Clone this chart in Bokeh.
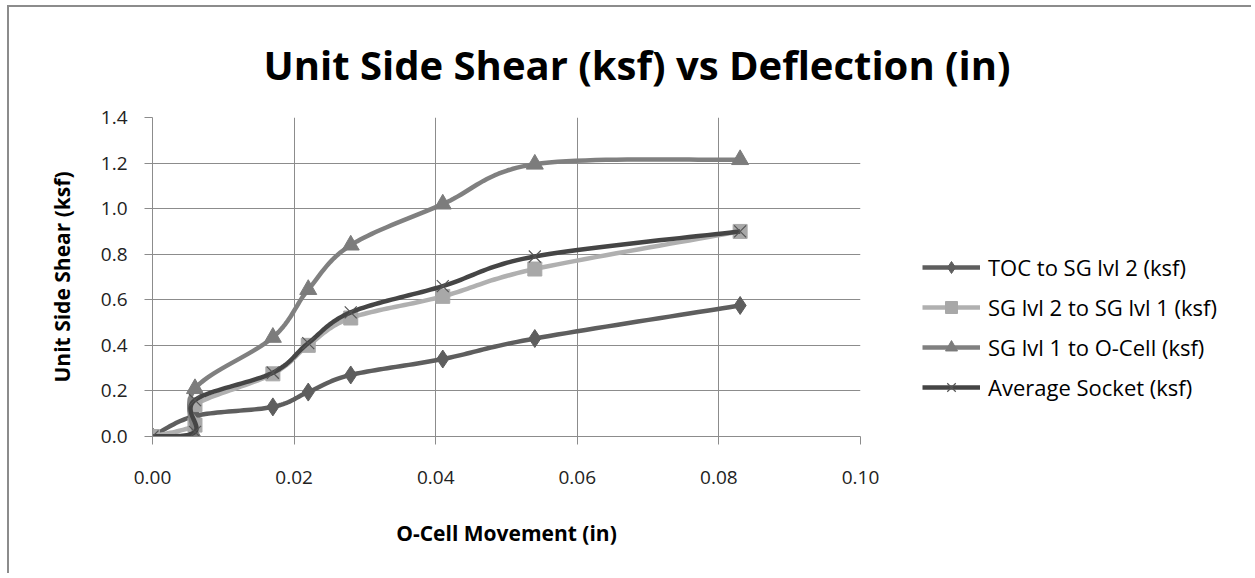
import numpy as np
from bokeh.plotting import figure
from bokeh.models import (Legend, LegendItem, FixedTicker, NumeralTickFormatter, Title,
                          ColumnDataSource)
from bokeh.embed import file_html
from bokeh.resources import INLINE

# ---- data ----
series_names = ["TOC to SG lvl 2 (ksf)", "SG lvl 2 to SG lvl 1 (ksf)",
                "SG lvl 1 to O-Cell (ksf)", "Average Socket (ksf)"]

x_toc = [0.000, 0.006, 0.017, 0.022, 0.028, 0.041, 0.054, 0.083]
y_toc = [0.00, 0.09, 0.13, 0.195, 0.27, 0.34, 0.43, 0.575]

x_sg21 = [0.000, 0.006, 0.006, 0.017, 0.022, 0.028, 0.041, 0.054, 0.083]
y_sg21 = [0.00, 0.05, 0.14, 0.275, 0.40, 0.52, 0.615, 0.735, 0.90]

x_sg1oc = [0.006, 0.006, 0.017, 0.022, 0.028, 0.041, 0.054, 0.083]
y_sg1oc = [0.00, 0.21, 0.435, 0.645, 0.84, 1.02, 1.195, 1.215]

x_avg = [0.000, 0.006, 0.006, 0.017, 0.022, 0.028, 0.041, 0.054, 0.083]
y_avg = [0.00, 0.02, 0.16, 0.28, 0.41, 0.545, 0.66, 0.79, 0.90]

x_ticks = [0.0, 0.02, 0.04, 0.06, 0.08, 0.10]
y_ticks = [0.0, 0.2, 0.4, 0.6, 0.8, 1.0, 1.2, 1.4]

FONT = "Open Sans"

# pixel scales of the frame, used only for the spline shape (like a spreadsheet's smoothed line)
FRAME_W, FRAME_H = 708, 319
SX = FRAME_W / (x_ticks[-1] - x_ticks[0])
SY = FRAME_H / (y_ticks[-1] - y_ticks[0])


def smooth(xs, ys, n=24):
    P = np.column_stack([np.asarray(xs) * SX, np.asarray(ys) * SY])
    out = [P[0]]
    m = len(P)
    for i in range(m - 1):
        p0 = P[i - 1] if i > 0 else P[i]
        p1 = P[i]
        p2 = P[i + 1]
        p3 = P[i + 2] if i + 2 < m else P[i + 1]
        c1 = p1 + (p2 - p0) / 6.0
        c2 = p2 - (p3 - p1) / 6.0
        t = np.linspace(0, 1, n)[1:, None]
        seg = ((1 - t) ** 3) * p1 + 3 * ((1 - t) ** 2) * t * c1 + 3 * (1 - t) * t ** 2 * c2 + t ** 3 * p2
        out.extend(seg)
    out = np.array(out)
    return out[:, 0] / SX, out[:, 1] / SY


p = figure(frame_width=FRAME_W, frame_height=FRAME_H, output_backend="svg", toolbar_location=None,
           x_range=(0, 0.10), y_range=(0, 1.4),
           min_border_left=143, min_border_right=0, min_border_top=110, min_border_bottom=137)
p.styles = {"border-left": "2px solid #8c8c8c", "border-top": "2px solid #8c8c8c",
            "margin-left": "7px", "margin-top": "5px",
            "max-width": "1244px", "overflow": "hidden"}
p.outline_line_color = None
p.background_fill_color = "white"
p.border_fill_color = "white"

title = Title(text="Unit Side Shear (ksf) vs Deflection (in)", align="left", offset=111,
              text_font=FONT, text_font_size="40px", text_font_style="bold",
              text_color="#000000", standoff=51)
p.add_layout(title, "above")

# axes
p.xaxis.ticker = FixedTicker(ticks=x_ticks)
p.yaxis.ticker = FixedTicker(ticks=y_ticks)
p.xaxis.formatter = NumeralTickFormatter(format="0.00")
p.yaxis.formatter = NumeralTickFormatter(format="0.0")
for ax in (p.xaxis, p.yaxis):
    ax.axis_line_color = "#8c8c8c"
    ax.major_tick_line_color = "#8c8c8c"
    ax.major_tick_out = 8
    ax.major_tick_in = 0
    ax.minor_tick_line_color = None
    ax.major_label_text_font = FONT
    ax.major_label_text_font_size = "19px"
    ax.major_label_text_color = "#222222"
    ax.axis_label_text_font = FONT
    ax.axis_label_text_font_size = "21px"
    ax.axis_label_text_font_style = "bold"
    ax.axis_label_text_color = "#000000"
p.xaxis.axis_label = "O-Cell Movement (in)"
p.yaxis.axis_label = "Unit Side Shear (ksf)"
p.xaxis.major_label_standoff = 26
p.xaxis.axis_label_standoff = 32
p.yaxis.major_label_standoff = 17
p.yaxis.axis_label_standoff = 22

p.xgrid.grid_line_color = "#8c8c8c"
p.ygrid.grid_line_color = "#8c8c8c"
p.xgrid.grid_line_width = 1
p.ygrid.grid_line_width = 1

styles = [
    dict(xs=x_toc, ys=y_toc, color="#5e5e5e", marker="diamond", size=18, mcolor="#5e5e5e"),
    dict(xs=x_sg21, ys=y_sg21, color="#b0b0b0", marker="square", size=14, mcolor="#a8a8a8"),
    dict(xs=x_sg1oc, ys=y_sg1oc, color="#808080", marker="triangle", size=17, mcolor="#7c7c7c"),
    dict(xs=x_avg, ys=y_avg, color="#454545", marker="x", size=17, mcolor="#555555"),
]

items = []
for name, st in zip(series_names, styles):
    sx, sy = smooth(st["xs"], st["ys"])
    r_line = p.line(sx, sy, line_color=st["color"], line_width=4.5, line_join="round")
    src = ColumnDataSource(dict(x=st["xs"], y=st["ys"]))
    if st["marker"] == "x":
        r_mark = p.scatter("x", "y", source=src, marker="x", size=st["size"],
                           line_color=st["mcolor"], line_width=1.2)
    else:
        r_mark = p.scatter("x", "y", source=src, marker=st["marker"], size=st["size"],
                           fill_color=st["mcolor"], line_color=st["mcolor"])
    items.append(LegendItem(label=name, renderers=[r_line, r_mark]))

legend = Legend(items=items, location=(62, 34), orientation="vertical",
                glyph_width=58, glyph_height=30, label_height=30, spacing=10,
                label_standoff=8, padding=0, margin=0,
                label_text_font=FONT, label_text_font_size="22px", label_text_color="#000000",
                border_line_color=None, background_fill_alpha=0)
p.add_layout(legend, "right")

open("out.html", "w").write(file_html(p, INLINE))
